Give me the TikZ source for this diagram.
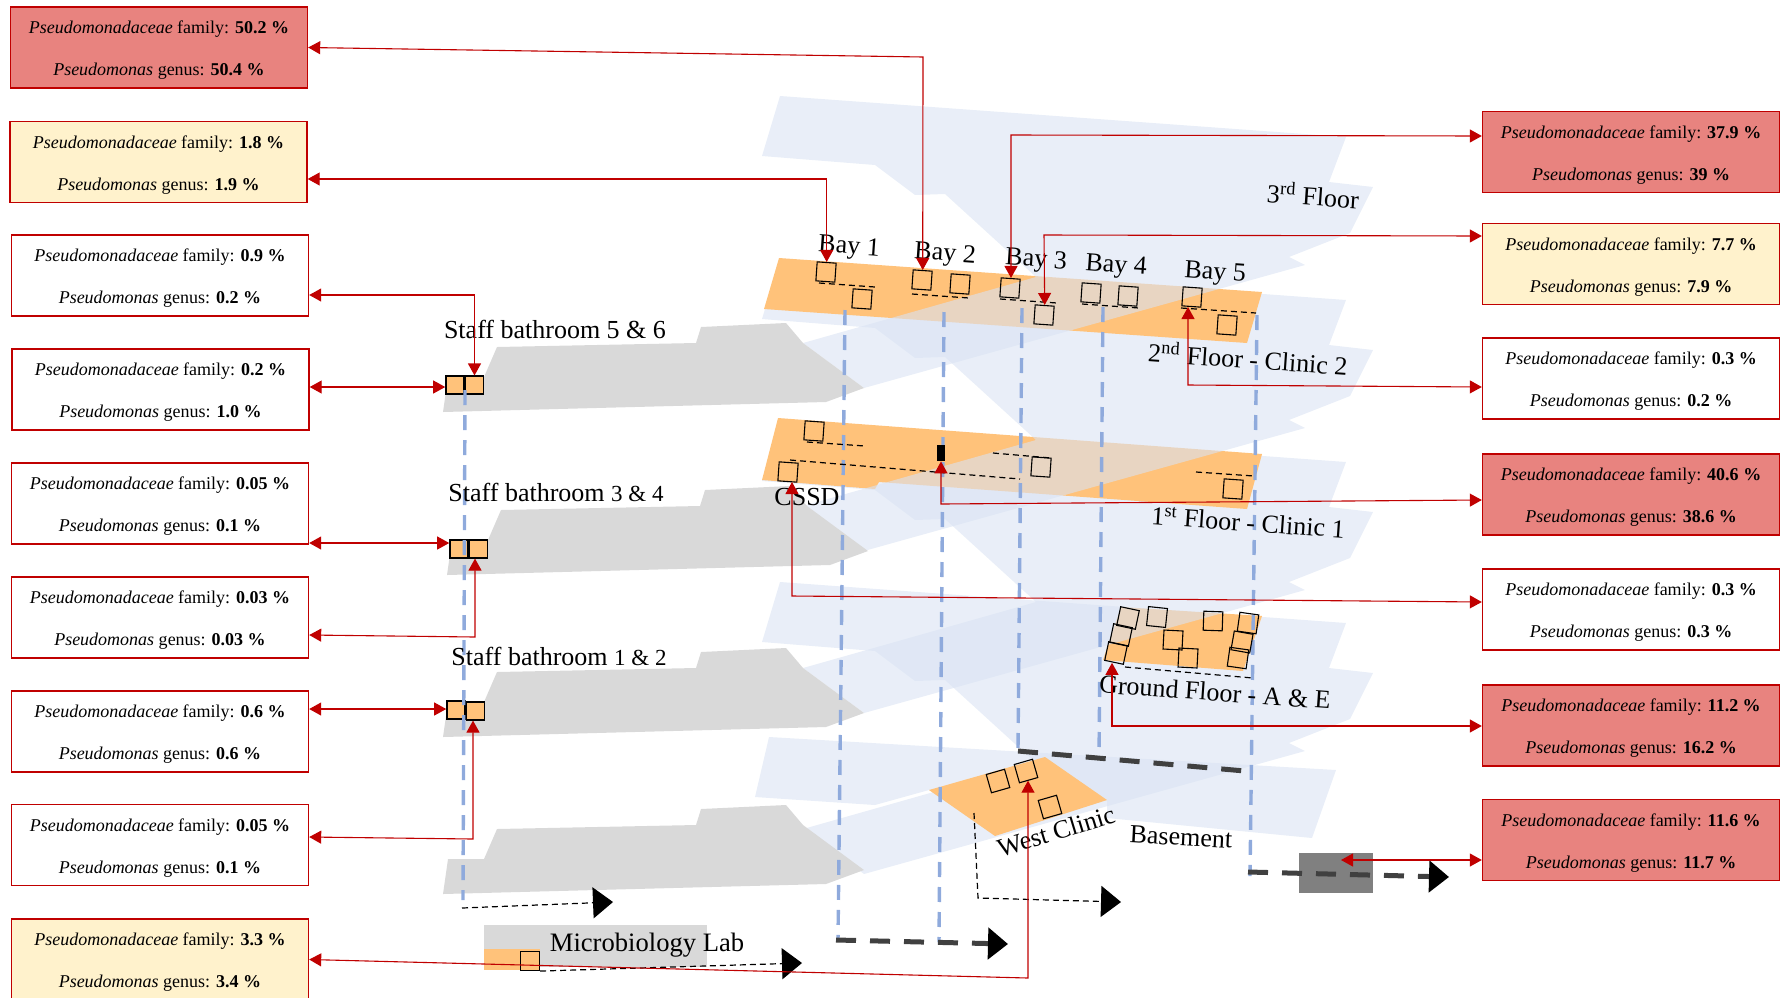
\documentclass[tikz,border=0pt]{standalone}
\usepackage{fontspec}
\setmainfont{Liberation Serif}
\usetikzlibrary{arrows.meta}

\definecolor{wardblue}{HTML}{DAE3F3}
\definecolor{wardorange}{HTML}{FFC27A}
\definecolor{staffgrey}{HTML}{D9D9D9}
\definecolor{linkred}{HTML}{C00000}
\definecolor{highred}{HTML}{E8837F}
\definecolor{midyellow}{HTML}{FFF2CC}
\definecolor{riserblue}{HTML}{8FAADC}
\definecolor{drainblack}{HTML}{404040}

\tikzset{
  abund/.style={draw=linkred, line width=.7pt, minimum width=148.5pt, minimum height=40.5pt,
    inner sep=0pt, align=center, font=\fontsize{9}{21}\selectfont},
  highbox/.style={abund, fill=highred},
  midbox/.style={abund, fill=midyellow},
  lowbox/.style={abund, fill=white},
  sqr/.style={draw=black, line width=.55pt, minimum size=9.5pt, inner sep=0pt},
  baysqr/.style={sqr, rotate=-4},
  sqrorange/.style={sqr, fill=wardorange, minimum size=9pt},
  place/.style={font=\fontsize{13}{14}\selectfont, inner sep=0pt},
  floorplan/.style={fill=wardblue, fill opacity=.6},
  riser/.style={riserblue, line width=1.7pt, dash pattern=on 7.5pt off 5pt},
  link/.style={linkred, line width=.55pt, {Triangle[length=6pt,width=6.5pt]}-{Triangle[length=6pt,width=6.5pt]}},
  drain/.style={drainblack, line width=2.5pt, dash pattern=on 10pt off 7pt, -{Triangle[length=10pt,width=15.5pt,black]}},
  pipe/.style={black, line width=.6pt, dash pattern=on 3pt off 2pt},
  pipearrow/.style={pipe, -{Triangle[length=10pt,width=15.5pt,black]}}
}

\newcommand{\abundtext}[2]{\rule{0pt}{9pt}\textit{Pseudomonadaceae} family: \textbf{#1 \%}\\ \textit{Pseudomonas} genus: \textbf{#2 \%}}
\newcommand{\floorshape}[1]{%
  \fill[floorplan, shift={(0,#1)}] (780,96) -- (1346,137) -- (1329,182) -- (1373,187) -- (1350,233)
    -- (1289,257) -- (1305,265) -- (864,388) -- (803,343) -- (1036,277) -- (945,194) -- (915,195)
    -- (875,165) -- (762,156) -- cycle;}
\newcommand{\staffwing}[2]{%
  \fill[staffgrey, shift={(#1,#2)}] (443,412) -- (448,377) -- (484,377) -- (497,347) -- (696,343)
    -- (701,327) -- (786,323) -- (803,343) -- (864,388) -- (826,402) -- cycle;}

\begin{document}
\begin{tikzpicture}[x=.5pt,y=-.5pt]
  \useasboundingbox (0,0) rectangle (1780,997);

  % Basement
  \fill[floorplan] (769,737) -- (1336,770) -- (1312,838) -- (1107,818) -- (1107,800) -- (995,836)
    -- (929,790) -- (875,805) -- (755,797) -- cycle;

  % Ground floor
  \floorshape{486}
  \staffwing{0}{482}
  \fill[wardorange] (929,790) -- (1045,757) -- (1107,800) -- (995,836) -- cycle;
  \fill[wardorange] (1121,607) -- (1262,616) -- (1243,671) -- (1103,660) -- cycle;

  % First floor
  \floorshape{325}
  \staffwing{0}{325}
  \fill[wardorange] (778,418) -- (1262,454) -- (1247,509) -- (879,482) -- (875,489) -- (762,480) -- cycle;

  % Second floor
  \floorshape{163}
  \staffwing{4}{163}
  \fill[wardorange] (779,258) -- (1262,292) -- (1247,343) -- (764,309) -- cycle;

  % Third floor
  \floorshape{0}
  \staffwing{0}{0}

  % Microbiology lab and the grey block
  \fill[staffgrey] (484,925) rectangle (707,967);
  \fill[wardorange] (484,949) rectangle (540,970);
  \fill[black!50] (1299,853) rectangle (1373,893);

  % Risers
  \draw[riser] (845,310) -- (838,940);
  \draw[riser] (944,312) -- (939,942);
  \draw[riser] (1022,308) -- (1018,748);
  \draw[riser] (1103,307) -- (1099,758);
  \draw[riser] (1257,315) -- (1250,876);

  % Thin dashed runs in the wards
  \draw[pipe] (819,283) -- (875,287);
  \draw[pipe] (912,294) -- (969,298);
  \draw[pipe] (1000,299) -- (1057,303);
  \draw[pipe] (1082,304) -- (1139,308);
  \draw[pipe] (1181,308) -- (1256,313);
  \draw[pipe] (807,442) -- (865,446);
  \draw[pipe] (790,460) -- (1020,479);
  \draw[pipe] (993,453) -- (1051,458);
  \draw[pipe] (1196,472) -- (1254,476);
  \draw[pipe] (1125,667) -- (1253,678);

  % Drains
  \draw[drainblack, line width=2.5pt, dash pattern=on 10pt off 7pt] (1018,751) -- (1245,771);
  \draw[drain] (836,940) -- (1008,944);
  \draw[drain] (1248,872) -- (1449,877);
  \draw[pipearrow] (462,908) -- (613,902);
  \draw[pipearrow] (974,813) -- (978,898) -- (1121,902);

  % Sample points, second floor
  \node[baysqr] (bayaa) at (826,272) {};
  \node[baysqr] (bayab) at (862,299) {};
  \node[baysqr] (bayba) at (922,280) {};
  \node[baysqr] (baybb) at (960,284) {};
  \node[baysqr] (bayca) at (1010,288) {};
  \node[baysqr] (baycb) at (1044,315) {};
  \node[baysqr] (bayda) at (1091,293) {};
  \node[baysqr] (baydb) at (1128,296) {};
  \node[baysqr] (bayea) at (1192,297) {};
  \node[baysqr] (bayeb) at (1227,325) {};

  % Sample points, first floor
  \node[baysqr] (clina) at (814,431) {};
  \node[baysqr] (cssd) at (788,472) {};
  \node[baysqr] (clinb) at (1041,467) {};
  \node[baysqr] (clinc) at (1233,489) {};
  \node[fill=black, minimum width=4pt, minimum height=8pt, inner sep=0pt] (clinbar) at (941,453) {};

  % Sample points, ground floor
  \node[sqr, rotate=-12] (aea) at (1128,618) {};
  \node[sqr, rotate=-6] (aeb) at (1157,617) {};
  \node[sqr, rotate=-2] (aec) at (1213,621) {};
  \node[sqr, rotate=-8] (aed) at (1248,623) {};
  \node[sqr, rotate=-12] (aee) at (1121,635) {};
  \node[sqr, rotate=-3] (aef) at (1173,640) {};
  \node[sqr, rotate=-10] (aeg) at (1242,642) {};
  \node[sqr, rotate=-12] (aeh) at (1116,653) {};
  \node[sqr, rotate=-3] (aei) at (1188,658) {};
  \node[sqr, rotate=-8] (aej) at (1238,658) {};

  % Sample points, west clinic
  \node[sqr, rotate=16] (westa) at (998,781) {};
  \node[sqr, rotate=16] (westb) at (1026,771) {};
  \node[sqr, rotate=16] (westc) at (1050,807) {};

  % Sample points, staff bathrooms and lab
  \node[sqrorange, line width=.8pt] (stafffa) at (455,385) {};
  \node[sqrorange] (stafffb) at (474.5,385) {};
  \node[sqrorange, line width=.8pt] (staffca) at (459,549) {};
  \node[sqrorange] (staffcb) at (478.5,549) {};
  \node[sqrorange, line width=.8pt] (staffaa) at (456,710) {};
  \node[sqrorange] (staffab) at (475.5,711) {};
  \node[sqr, fill=wardorange] (lab) at (530,961) {};
  \draw[pipearrow] (lab.south east) -- (802,963);

  % Riser through the staff bathrooms
  \draw[riser] (465,390) -- (463,900);

  % Place names
  \node[place] (tbathf) at (555,329) {Staff bathroom 5 \& 6};
  \node[place] (tbathc) at (556,492) {Staff bathroom {\fontsize{11.5}{14}\selectfont 3 \& 4}};
  \node[place] (tbatha) at (559,656) {Staff bathroom {\fontsize{11.5}{14}\selectfont 1 \& 2}};
  \node[place, font=\fontsize{13.3}{14}\selectfont] (tlab) at (647,945) {Microbiology Lab};
  \node[place, rotate=-4] (tbaya) at (849,248) {Bay 1};
  \node[place, rotate=-4] (tbayb) at (945,255) {Bay 2};
  \node[place, rotate=-4] (tbayc) at (1036,261) {Bay 3};
  \node[place, rotate=-4] (tbayd) at (1116,267) {Bay 4};
  \node[place, rotate=-4] (tbaye) at (1215,274) {Bay 5};
  \node[place, rotate=-4] (tthird) at (1313,195) {3\textsuperscript{rd} Floor};
  \node[place, rotate=-4] (tsecond) at (1248,358) {2\textsuperscript{nd} Floor - Clinic 2};
  \node[place, rotate=-4] (tfirst) at (1248,522) {1\textsuperscript{st} Floor - Clinic 1};
  \node[place] (tcssd) at (807,497) {CSSD};
  \node[place, rotate=-4] (tground) at (1215,692) {Ground Floor - A \& E};
  \node[place, rotate=17] (twest) at (1056,831) {West Clinic};
  \node[place, rotate=-3] (tbase) at (1181,837) {Basement};

  % Result boxes, left
  \node[highbox] (lboxa) at (159,47.5) {\abundtext{50.2}{50.4}};
  \node[midbox] (lboxb) at (158.5,162) {\abundtext{1.8}{1.9}};
  \node[lowbox] (lboxc) at (160,275.5) {\abundtext{0.9}{0.2}};
  \node[lowbox] (lboxd) at (160.5,389.5) {\abundtext{0.2}{1.0}};
  \node[lowbox] (lboxe) at (160,503.5) {\abundtext{0.05}{0.1}};
  \node[lowbox] (lboxf) at (160,617.5) {\abundtext{0.03}{0.03}};
  \node[lowbox] (lboxg) at (160,731.5) {\abundtext{0.6}{0.6}};
  \node[lowbox] (lboxh) at (160,845) {\abundtext{0.05}{0.1}};
  \node[midbox] (lboxi) at (160,959.5) {\abundtext{3.3}{3.4}};

  % Result boxes, right
  \node[highbox] (rboxa) at (1631,152) {\abundtext{37.9}{39}};
  \node[midbox] (rboxb) at (1631,264) {\abundtext{7.7}{7.9}};
  \node[lowbox] (rboxc) at (1631,378.5) {\abundtext{0.3}{0.2}};
  \node[highbox] (rboxd) at (1631,494.5) {\abundtext{40.6}{38.6}};
  \node[lowbox] (rboxe) at (1631,609.5) {\abundtext{0.3}{0.3}};
  \node[highbox] (rboxf) at (1631,725.5) {\abundtext{11.2}{16.2}};
  \node[highbox] (rboxg) at (1631,840) {\abundtext{11.6}{11.7}};

  % Links, left
  \draw[link] (lboxa.east) -- (923,57) -- (bayba.north);
  \draw[link] (lboxb.east |- 0,179) -| (bayaa.north);
  \draw[link] (lboxc.east |- 0,295) -| (stafffb.north);
  \draw[link] (lboxd.east |- 0,387) -- (stafffa.west |- 0,387);
  \draw[link] (lboxe.east |- 0,543) -- (staffca.west |- 0,543);
  \draw[link] (lboxf.east |- 0,635) -- (475,637) -- (475,637 |- staffcb.south);
  \draw[link] (lboxg.east |- 0,709) -- (staffaa.west |- 0,709);
  \draw[link] (lboxh.east |- 0,837) -- (473,839) -- (473,839 |- staffab.south);
  \draw[link] (lboxi.east) -- (1028,978) -- (1028,978 |- westb.south);

  % Links, right
  \draw[link] (rboxa.west |- 0,136) -- (1011,135) -- (1011,135 |- bayca.north);
  \draw[link] (rboxb.west |- 0,236) -- (1044,235) -- (baycb.north);
  \draw[link] (rboxc.west |- 0,387) -- (1188,385) -- (1188,385 |- bayea.south);
  \draw[link] (rboxd.west |- 0,500) -- (941,504) -- (clinbar.south);
  \draw[link] (rboxe.west |- 0,602) -- (792,596) -- (cssd.south -| 792,596);
  \draw[link] (rboxf.west |- 0,726) -- (1112,726) -- (aeh.south -| 1112,726);
  \draw[link] (rboxg.west |- 0,860) -- (1341,860);

\end{tikzpicture}
\end{document}
